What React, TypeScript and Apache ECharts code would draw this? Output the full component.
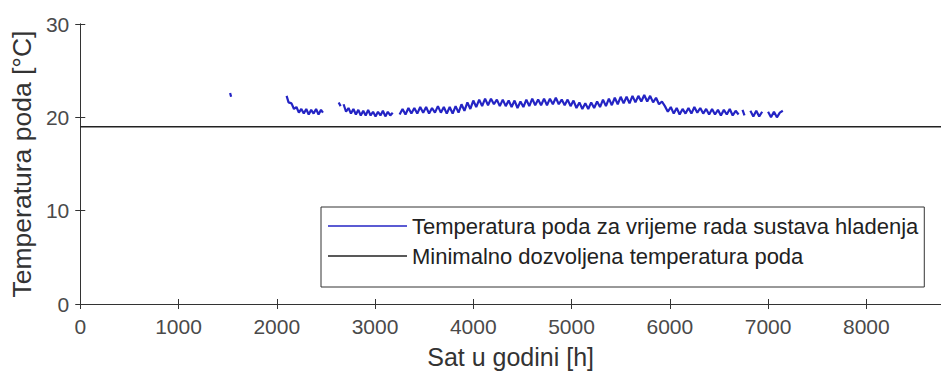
import React, { useEffect, useRef } from "react";
import * as echarts from "echarts";

// Hour of year (x) and floor temperature (y); null marks hours when cooling is off
const hours: number[] = [
  1525, 1535, 1540,
  2100, 2120, 2150, 2175, 2200, 2225, 2250, 2275, 2300, 2325, 2350, 2375, 2400, 2425, 2450, 2470, 2480,
  2630, 2650, 2660,
  2680, 2705, 2730, 2755, 2780, 2805, 2830, 2855, 2880, 2905, 2930, 2955, 2980, 3005, 3030, 3055,
  3080, 3105, 3130, 3155, 3180, 3210,
  3250, 3280, 3310, 3340, 3370, 3400, 3430, 3460, 3490, 3520, 3550, 3580, 3610, 3640, 3670, 3700, 3730,
  3760, 3790, 3820, 3850, 3880, 3910, 3940, 3970, 4000, 4030, 4060, 4090, 4120, 4150, 4180, 4210,
  4240, 4270, 4300, 4330, 4360, 4390, 4420, 4450, 4480, 4510, 4540, 4570, 4600, 4630, 4660, 4690, 4720,
  4750, 4780, 4810, 4840, 4870, 4900, 4930, 4960, 4990, 5020, 5050, 5080, 5110, 5140, 5170, 5200, 5230,
  5260, 5290, 5320, 5350, 5380, 5410, 5440, 5470, 5500, 5530, 5560, 5590, 5620, 5650, 5680, 5710, 5740,
  5770, 5800, 5830, 5860, 5890, 5920, 5950,
  5980, 6010, 6040, 6070, 6100, 6130, 6160, 6190, 6220, 6250, 6280, 6310, 6340, 6370, 6400, 6430, 6460,
  6490, 6520, 6550, 6580, 6610, 6640, 6670, 6700, 6710,
  6740, 6760, 6780,
  6820, 6850, 6880, 6910, 6940, 6970,
  7000, 7030, 7060, 7090, 7120, 7150,
];
const temps: (number | null)[] = [
  22.6, 22.2, null,
  22.3, 21.6, 21.5, 20.9, 21.1, 20.5, 20.9, 20.4, 20.9, 20.3, 20.8, 20.4, 20.9, 20.3, 20.8, 20.5, null,
  21.6, 21.2, null,
  21.4, 20.6, 21.0, 20.4, 20.9, 20.3, 20.8, 20.2, 20.7, 20.2, 20.8, 20.2, 20.6, 20.1, 20.6, 20.2,
  20.7, 20.1, 20.6, 20.2, 20.5, null,
  20.3, 20.9, 20.3, 21.0, 20.4, 21.0, 20.4, 21.1, 20.5, 21.1, 20.4, 21.0, 20.5, 21.2, 20.5, 21.1, 20.4,
  21.1, 20.4, 21.2, 20.5, 21.4, 20.7, 21.6, 20.9, 21.8, 21.1, 21.9, 21.2, 22.0, 21.3, 22.0, 21.4,
  21.9, 21.2, 21.9, 21.2, 21.8, 21.1, 21.8, 21.0, 21.7, 21.1, 21.9, 21.2, 22.0, 21.3, 21.9, 21.3, 22.0,
  21.3, 22.0, 21.4, 22.1, 21.4, 21.9, 21.3, 21.9, 21.2, 21.8, 21.0, 21.6, 20.9, 21.5, 20.9, 21.6, 21.0,
  21.7, 21.1, 21.9, 21.2, 22.0, 21.3, 22.1, 21.4, 22.2, 21.5, 22.2, 21.5, 22.3, 21.6, 22.3, 21.7, 22.4,
  21.7, 22.3, 21.6, 22.1, 21.4, 21.7, 21.2,
  20.6, 21.1, 20.4, 21.0, 20.3, 20.9, 20.4, 21.0, 20.4, 21.1, 20.5, 21.0, 20.4, 20.9, 20.3, 20.9, 20.3,
  20.8, 20.2, 20.8, 20.3, 20.9, 20.2, 20.7, 20.3, null,
  20.8, 20.2, null,
  20.7, 20.1, 20.7, 20.1, 20.6, null,
  20.6, 20.0, 20.6, 20.0, 20.5, 20.7,
];

// Minimum allowed floor temperature
const minHours: number[] = [0, 8760];
const minTemps: number[] = [19, 19];

const xTicks = { min: 0, max: 8760, interval: 1000 };
const yTicks = { min: 0, max: 30, interval: 10 };

const seriesNames = [
  "Temperatura poda za vrijeme rada sustava hladenja",
  "Minimalno dozvoljena temperatura poda",
];

export default function App() {
  const ref = useRef<HTMLDivElement>(null);
  useEffect(() => {
    if (!ref.current) return;
    const chart = echarts.init(ref.current, undefined, { renderer: "svg" });
    const font = "Liberation Sans, Arial, sans-serif";
    const axisColor = "#333";
    const labelColor = "#4a4a4a";
    const plain = (v: number) => String(v);
    const tempData = hours.map((h, i) => [h, temps[i]]);
    const minData = minHours.map((h, i) => [h, minTemps[i]]);
    chart.setOption({
      animation: false,
      backgroundColor: "#fff",
      grid: { left: 80, top: 24, width: 864, height: 280, containLabel: false },
      legend: {
        left: 321,
        top: 207,
        orient: "vertical",
        data: seriesNames,
        icon: "rect",
        itemWidth: 79,
        itemHeight: 1.5,
        itemGap: 8,
        padding: [8, 6, 20, 7],
        borderColor: "#333",
        borderWidth: 1,
        backgroundColor: "#fff",
        textStyle: { fontFamily: font, fontSize: 22, color: "#222", lineHeight: 22 },
      },
      xAxis: [
        {
          type: "value",
          min: xTicks.min,
          max: xTicks.max,
          interval: xTicks.interval,
          name: "Sat u godini [h]",
          nameLocation: "middle",
          nameGap: 40,
          nameTextStyle: { fontFamily: font, fontSize: 25, color: "#333" },
          axisLine: { show: true, lineStyle: { color: axisColor, width: 1 } },
          axisTick: { show: true, inside: true, length: 5, lineStyle: { color: axisColor } },
          axisLabel: { fontFamily: font, fontSize: 21, color: labelColor, margin: 12, showMaxLabel: false, formatter: plain },
          splitLine: { show: false },
        },
        {
          type: "value",
          position: "top",
          min: xTicks.min,
          max: xTicks.max,
          interval: xTicks.interval,
          axisLine: { show: true, lineStyle: { color: axisColor, width: 1 } },
          axisTick: { show: true, inside: true, length: 5, lineStyle: { color: axisColor } },
          axisLabel: { show: false },
          splitLine: { show: false },
        },
      ],
      yAxis: [
        {
          type: "value",
          min: yTicks.min,
          max: yTicks.max,
          interval: yTicks.interval,
          name: "Temperatura poda [°C]",
          nameLocation: "middle",
          nameGap: 44,
          nameTextStyle: { fontFamily: font, fontSize: 26.5, color: "#333" },
          axisLine: { show: true, lineStyle: { color: axisColor, width: 1 } },
          axisTick: { show: true, inside: true, length: 5, lineStyle: { color: axisColor } },
          axisLabel: { fontFamily: font, fontSize: 21, color: labelColor, margin: 11, formatter: plain },
          splitLine: { show: false },
        },
        {
          type: "value",
          position: "right",
          min: yTicks.min,
          max: yTicks.max,
          interval: yTicks.interval,
          axisLine: { show: true, lineStyle: { color: axisColor, width: 1 } },
          axisTick: { show: true, inside: true, length: 5, lineStyle: { color: axisColor } },
          axisLabel: { show: false },
          splitLine: { show: false },
        },
      ],
      series: [
        {
          name: seriesNames[0],
          type: "line",
          data: tempData,
          showSymbol: false,
          connectNulls: false,
          lineStyle: { color: "#2424c4", width: 2.2 },
          itemStyle: { color: "#2424c4" },
        },
        {
          name: seriesNames[1],
          type: "line",
          data: minData,
          showSymbol: false,
          lineStyle: { color: "#222", width: 1.5 },
          itemStyle: { color: "#222" },
        },
      ],
    });
    return () => chart.dispose();
  }, []);
  return (
    <div
      ref={ref}
      style={{ position: "fixed", left: 0, top: 0, width: 941, height: 381 }}
    />
  );
}
